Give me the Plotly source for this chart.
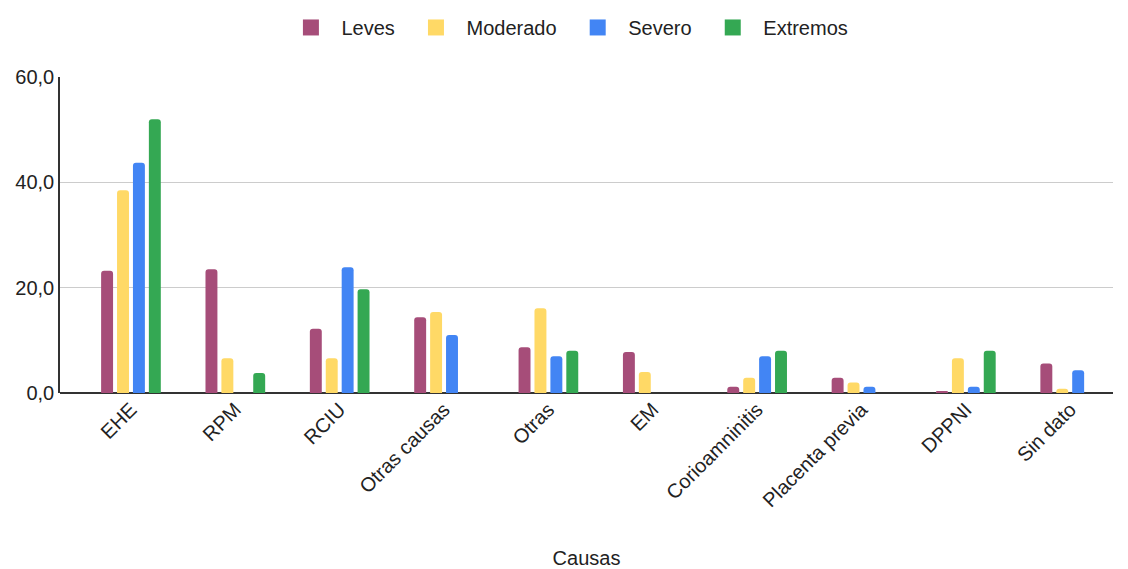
import plotly.graph_objects as go

categories = ["EHE", "RPM", "RCIU", "Otras causas", "Otras", "EM",
              "Corioamninitis", "Placenta previa", "DPPNI", "Sin dato"]
leves = [23.2, 23.5, 12.2, 14.4, 8.7, 7.8, 1.2, 2.9, 0.2, 5.6]
moderado = [38.5, 6.6, 6.6, 15.4, 16.1, 4.0, 2.9, 2.0, 6.6, 0.8]
severo = [43.7, 0, 23.9, 11.0, 7.0, 0, 7.0, 1.2, 1.2, 4.3]
extremos = [52.0, 3.8, 19.7, 0, 8.0, 0, 8.0, 0, 8.0, 0]

series = [("Leves", leves, "#A64D79"), ("Moderado", moderado, "#FFD966"),
          ("Severo", severo, "#4285F4"), ("Extremos", extremos, "#34A853")]

fig = go.Figure()
for name, vals, col in series:
    fig.add_trace(go.Bar(x=categories, y=vals, name=name, marker_color=col,
                         marker_line_width=0, marker_cornerradius=3,
                         showlegend=False))
# legend-only entries with larger square symbols
for name, vals, col in series:
    fig.add_trace(go.Scatter(x=[None], y=[None], mode="markers",
                             name="\u00a0" + name + "\u00a0\u00a0",
                             marker=dict(symbol="square", size=18, color=col)))

font = "Liberation Sans, Arial, sans-serif"
txt = "#222222"
fig.update_layout(
    width=1128, height=569,
    margin=dict(l=60, r=15, t=77, b=176, autoexpand=False),
    paper_bgcolor="white", plot_bgcolor="white",
    barmode="group", bargap=0.39, bargroupgap=0.25,
    separators=",.",
    font=dict(family=font, size=20, color=txt),
    legend=dict(orientation="h", x=0.489, xanchor="center", y=0.986, yanchor="top",
                yref="container", font=dict(size=20, color=txt),
                itemwidth=40, traceorder="normal"),
    xaxis=dict(range=[-0.68, 9.41], tickangle=-45, showgrid=False, automargin=False,
               showline=False, ticks="", tickfont=dict(size=20, color=txt),
               title=dict(text="Causas", font=dict(size=20, color=txt), standoff=42)),
    yaxis=dict(range=[0, 60], tickvals=[0, 20, 40, 60], tickformat=".1f",
               automargin=False,
               showgrid=True, gridcolor="#cccccc", gridwidth=1,
               zeroline=True, zerolinecolor="#333333", zerolinewidth=2,
               showline=True, linecolor="#333333", linewidth=1.5,
               ticks="", tickfont=dict(size=20, color=txt)),
)
fig.write_html("out.html")
